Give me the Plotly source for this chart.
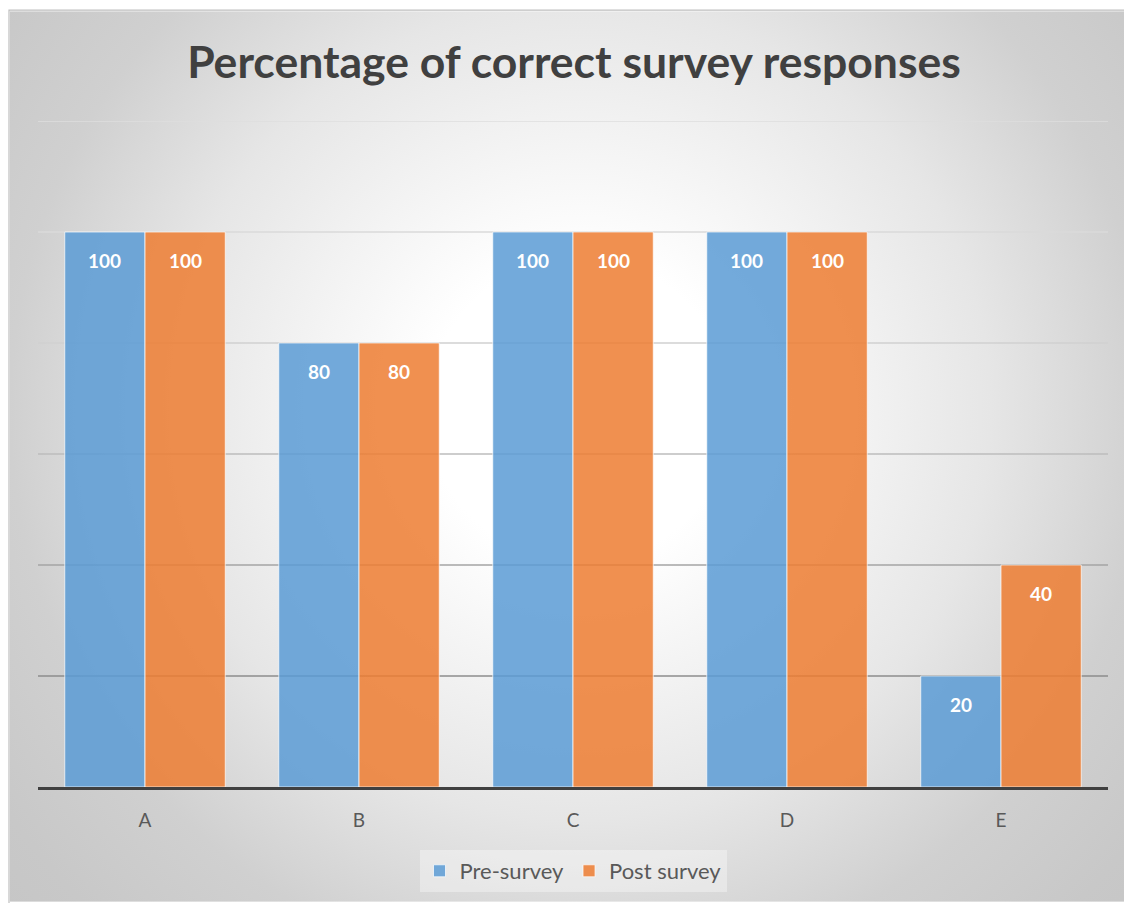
import base64
import plotly.graph_objects as go

# ---- data ----
categories = ["A", "B", "C", "D", "E"]
pre_survey = [100, 80, 100, 100, 20]
post_survey = [100, 80, 100, 100, 40]
series_names = ["Pre-survey", "Post survey"]
grid_values = [20, 40, 60, 80, 100, 120]
title_text = "Percentage of correct survey responses"

# ---- styles ----
W, H = 1124, 903
ML, MR, MT, MB = 38, 16, 121, 115
PW, PH = W - ML - MR, H - MT - MB
BARGAP = 0.25
blue = "rgba(91,155,213,0.85)"
orange = "rgba(237,125,49,0.85)"
grid_colors = ["#8c8c8c", "#a4a4a4", "#bcbcbc", "#d0d0d0", "#dadada", "#dedede"]
font_family = "Lato, 'Open Sans', sans-serif"

# background radial gradient as svg
BX0, BY0 = 10, 11
BW, BH = W - BX0, H - BY0
svg = f"""<svg xmlns='http://www.w3.org/2000/svg' width='{BW}' height='{BH}' viewBox='0 0 {BW} {BH}' preserveAspectRatio='none'>
<defs><radialGradient id='g' gradientUnits='userSpaceOnUse' cx='570' cy='400' r='760'>
<stop offset='0' stop-color='#ffffff'/><stop offset='0.2' stop-color='#ffffff'/>
<stop offset='0.54' stop-color='#e6e6e6'/><stop offset='0.75' stop-color='#d0d0d0'/>
<stop offset='0.92' stop-color='#c8c8c8'/><stop offset='1' stop-color='#c6c6c6'/>
</radialGradient></defs>
<rect x='0' y='0' width='{BW}' height='{BH}' fill='url(#g)'/>
</svg>"""
src = "data:image/svg+xml;base64," + base64.b64encode(svg.encode()).decode()

fig = go.Figure()
for name, vals, col in zip(series_names, [pre_survey, post_survey], [blue, orange]):
    fig.add_trace(go.Bar(
        x=categories, y=vals, name=name,
        marker=dict(color=col, line=dict(color="rgba(255,255,255,0.7)", width=1)),
    ))

# data labels
slot = PW / len(categories)
bar_w = slot * (1 - BARGAP) / 2
annotations = []
for si, vals in enumerate([pre_survey, post_survey]):
    shift = (-0.5 if si == 0 else 0.5) * bar_w
    for c, v in zip(categories, vals):
        annotations.append(dict(
            x=c, y=v, xref="x", yref="y", text=f"<b>{v}</b>", showarrow=False,
            xshift=shift, yshift=-28, yanchor="middle",
            font=dict(family=font_family, size=19, color="white"),
        ))

shapes = []
for gv, gc in zip(grid_values, grid_colors):
    shapes.append(dict(type="line", xref="paper", yref="y", x0=0, x1=1, y0=gv, y1=gv,
                       line=dict(color=gc, width=1.3), layer="below"))
# chart border (left/top)
shapes.append(dict(type="rect", xref="paper", yref="paper",
                   x0=(BX0 - 1 - ML) / PW, x1=(W + 20 - ML) / PW,
                   y0=-(H + 20 - MT - PH) / PH, y1=(PH + MT - BY0 + 1) / PH,
                   line=dict(color="#bfbfbf", width=1.2), layer="above"))

fig.update_layout(
    width=W, height=H,
    margin=dict(l=ML, r=MR, t=MT, b=MB),
    paper_bgcolor="white", plot_bgcolor="rgba(0,0,0,0)",
    barmode="group", bargap=BARGAP, bargroupgap=0,
    title=dict(text=f"<b>{title_text}</b>", x=574 / W, xanchor="center",
               y=1 - 62 / H, yanchor="middle", yref="container",
               font=dict(family=font_family, size=44.5, color="#404040")),
    font=dict(family=font_family, color="#595959"),
    xaxis=dict(showline=True, linecolor="#404040", linewidth=3, ticks="",
               tickfont=dict(size=19, color="#595959"), ticklabelstandoff=14,
               showgrid=False, zeroline=False),
    yaxis=dict(range=[0, 120], showgrid=False, zeroline=False, showticklabels=False,
               ticks=""),
    legend=dict(orientation="h", x=0.5, xanchor="center", y=-(871 - 788) / PH,
                yanchor="middle", bgcolor="rgba(255,255,255,0.35)",
                font=dict(size=22, color="#595959"), itemwidth=30),
    showlegend=True,
    annotations=annotations,
    shapes=shapes,
    images=[dict(source=src, xref="paper", yref="paper",
                 x=(BX0 - ML) / PW, y=(PH + MT - BY0) / PH,
                 sizex=BW / PW, sizey=BH / PH, sizing="stretch",
                 xanchor="left", yanchor="top", layer="below")],
)

fig.write_html("out.html")
